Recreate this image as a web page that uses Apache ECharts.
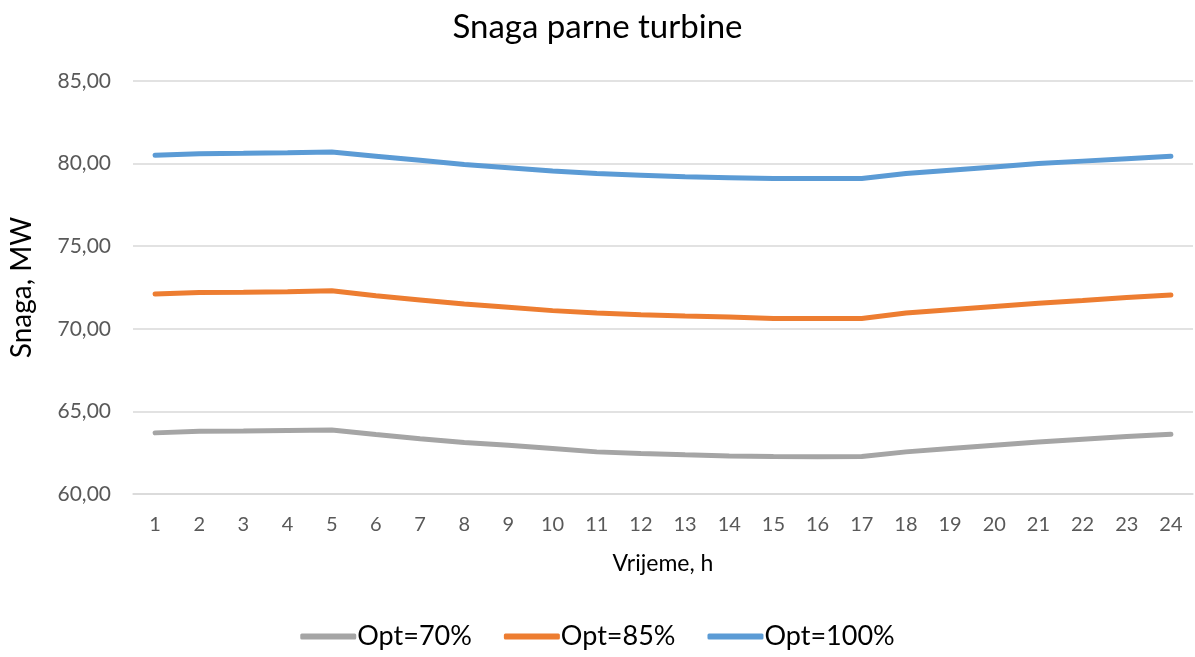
<!DOCTYPE html>
<html>
<head>
<meta charset="utf-8">
<script src="https://cdn.jsdelivr.net/npm/echarts@6/dist/echarts.min.js"></script>
<style>
  html, body { margin: 0; padding: 0; background: #fff; }
  #chart { width: 1195px; height: 657px; }
</style>
</head>
<body>
<div id="chart"></div>
<script>
const hours = ['1','2','3','4','5','6','7','8','9','10','11','12','13','14','15','16','17','18','19','20','21','22','23','24']
const opt70 = [63.70, 63.80, 63.82, 63.85, 63.87, 63.60, 63.35, 63.12, 62.95, 62.75, 62.55, 62.45, 62.37, 62.30, 62.27, 62.25, 62.27, 62.55, 62.75, 62.95, 63.15, 63.32, 63.48, 63.62]
const opt85 = [72.10, 72.20, 72.22, 72.25, 72.30, 72.00, 71.75, 71.50, 71.30, 71.10, 70.95, 70.85, 70.78, 70.72, 70.63, 70.62, 70.62, 70.95, 71.15, 71.35, 71.55, 71.72, 71.90, 72.05]
const opt100 = [80.50, 80.60, 80.62, 80.65, 80.70, 80.45, 80.20, 79.95, 79.75, 79.55, 79.40, 79.30, 79.20, 79.15, 79.10, 79.10, 79.10, 79.40, 79.60, 79.80, 80.00, 80.15, 80.30, 80.45]
const yTicks = { min: 60, max: 85, step: 5 }

var chart = echarts.init(document.getElementById('chart'))
var font = 'Lato, "Open Sans", sans-serif'

function line(name, data, color) {
  return {
    name: name,
    type: 'line',
    data: data,
    symbol: 'none',
    lineStyle: { width: 5, color: color, cap: 'round' },
    itemStyle: { color: color }
  }
}

chart.setOption({
  animation: false,
  textStyle: { fontFamily: font },
  title: {
    text: 'Snaga parne turbine',
    left: 'center',
    top: 6,
    textStyle: { fontSize: 33, fontWeight: 'normal', color: '#000', fontFamily: font }
  },
  legend: {
    bottom: 2,
    left: 'center',
    icon: 'roundRect',
    itemWidth: 56,
    itemHeight: 6,
    itemGap: 32,
    textStyle: { fontSize: 27, color: '#000', fontFamily: font, padding: [0, 0, 0, -4] },
    data: ['Opt=70%', 'Opt=85%', 'Opt=100%']
  },
  grid: { left: 133, right: 2, top: 81, bottom: 163 },
  xAxis: {
    type: 'category',
    data: hours,
    boundaryGap: true,
    name: 'Vrijeme, h',
    nameLocation: 'middle',
    nameGap: 58,
    nameTextStyle: { fontSize: 23, color: '#000' },
    axisLine: { lineStyle: { color: '#d9d9d9', width: 1.5 } },
    axisTick: { show: false },
    axisLabel: { fontSize: 20, color: '#595959', margin: 21 }
  },
  yAxis: {
    type: 'value',
    min: yTicks.min,
    max: yTicks.max,
    interval: yTicks.step,
    name: 'Snaga, MW',
    nameLocation: 'middle',
    nameGap: 97,
    nameTextStyle: { fontSize: 28, color: '#000' },
    axisLine: { show: false },
    axisTick: { show: false },
    splitLine: { lineStyle: { color: '#d9d9d9', width: 1.5 } },
    axisLabel: {
      fontSize: 21,
      color: '#595959',
      margin: 22,
      formatter: function (v) { return v.toFixed(2).replace('.', ',') }
    }
  },
  series: [
    line('Opt=70%', opt70, '#a5a5a5'),
    line('Opt=85%', opt85, '#ed7d31'),
    line('Opt=100%', opt100, '#5b9bd5')
  ]
}, true)
</script>
</body>
</html>
